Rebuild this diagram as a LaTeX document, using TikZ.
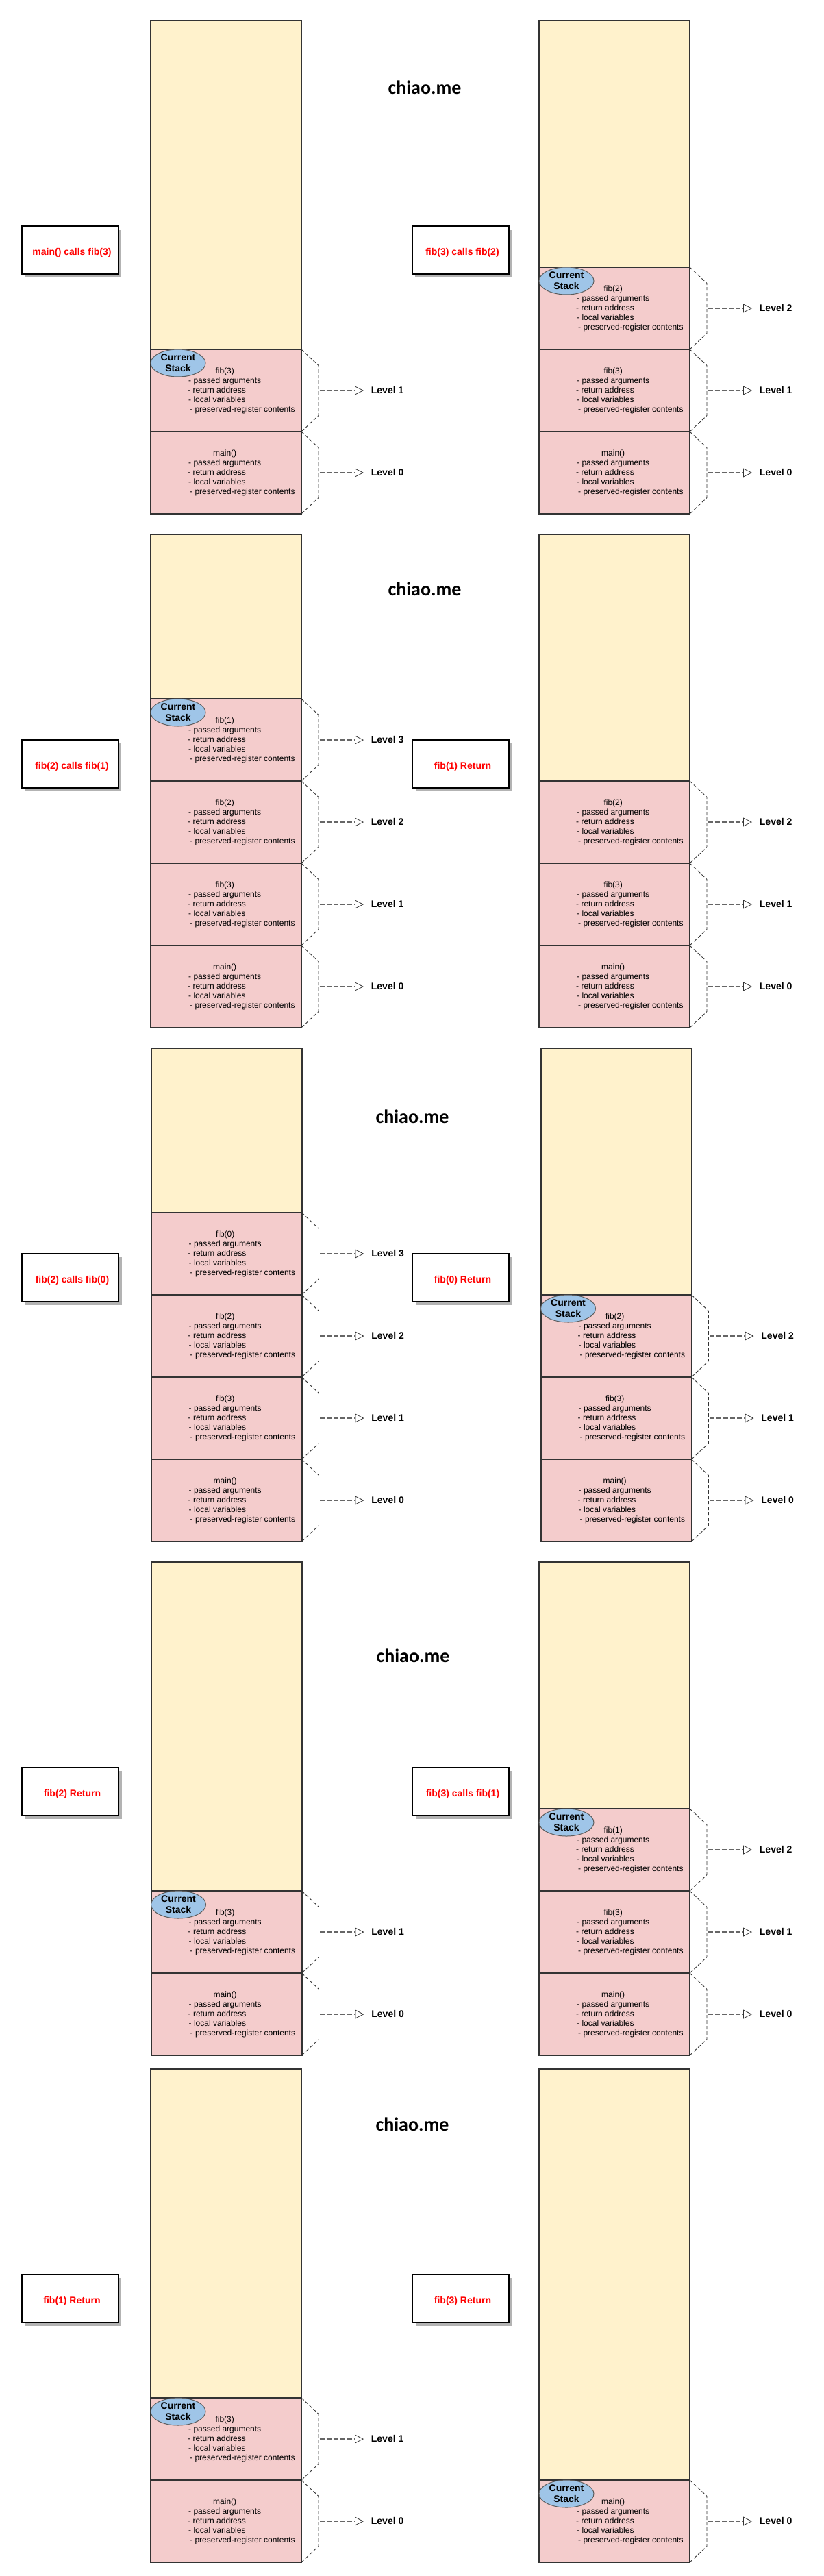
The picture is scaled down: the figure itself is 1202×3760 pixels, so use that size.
\documentclass[tikz,border=0pt]{standalone}
\usepackage{fontspec}
\setmainfont{Liberation Sans}
\newfontfamily\chiaofont{Carlito}
\usetikzlibrary{calc,arrows.meta,shapes.geometric,shadows}
\definecolor{freecol}{HTML}{FFF2CC}
\definecolor{framecol}{HTML}{F4CCCC}
\definecolor{ovalcol}{HTML}{9FC5E8}
\definecolor{edgecol}{HTML}{333333}
\definecolor{shadecol}{HTML}{B3B3B3}
\tikzset{
  x=1pt,y=-1pt,
  cellbase/.style={rectangle,draw=edgecol,line width=2pt,minimum width=220pt,inner sep=0pt,outer sep=0pt,anchor=north west},
  freecell/.style={cellbase,fill=freecol},
  stackcell/.style={cellbase,fill=framecol,minimum height=120pt},
  celltext/.style={anchor=west,inner sep=0pt,align=left,font=\fontsize{12}{14}\selectfont},
  bracket/.style={draw=edgecol,line width=0.9pt,dash pattern=on 5pt off 3pt},
  levelarrow/.style={draw=black!60,line width=1.3pt,dash pattern=on 7pt off 3pt,-{Triangle[open,length=13pt,width=13pt,line width=0.8pt,color=edgecol]}},
  levellabel/.style={anchor=west,inner sep=0pt,font=\bfseries\fontsize{14}{16}\selectfont},
  captionbox/.style={rectangle,draw=black,fill=white,line width=2pt,minimum width=141pt,minimum height=70pt,inner sep=0pt,outer sep=0pt,anchor=north west,text=red,font=\bfseries\fontsize{14}{16}\selectfont,general shadow={fill=shadecol,shadow xshift=4.5pt,shadow yshift=-4.5pt}},
  oval/.style={ellipse,draw=edgecol!80,fill=ovalcol,line width=1pt,minimum width=80pt,minimum height=40pt,inner sep=0pt,align=center,font=\bfseries\fontsize{14}{16}\selectfont},
  brand/.style={inner sep=0pt,font=\chiaofont\bfseries\fontsize{28}{32}\selectfont},
}
% name, left x, top y, title, level
\newcommand\callframe[5]{%
  \node[stackcell] (#1) at (#2,#3) {};
  \node[celltext] (#1txt) at ($(#1.west)+(54pt,0pt)$) {\makebox[108pt][c]{#4}\\\hspace*{1pt}- passed arguments\\- return address\\\hspace*{1pt}- local variables\\\hspace*{3pt}- preserved-register contents};
  \coordinate (#1a) at ($(#1.east)+(25pt,0pt)$);
  \coordinate (#1b) at ($(#1.north east)+(25pt,-23.5pt)$);
  \coordinate (#1c) at ($(#1.south east)+(25pt,23.5pt)$);
  \draw[bracket] (#1.north east) -- (#1b) -- (#1c) -- (#1.south east);
  \coordinate (#1t) at ($(#1.east)+(91pt,0pt)$);
  \draw[levelarrow] ($(#1a)+(1.5pt,0pt)$) -- (#1t);
  \node[levellabel] (#1l) at ($(#1.east)+(101.7pt,0.5pt)$) {Level #5};
}
\newcommand\oneoval[2]{\node[oval] (#1) at ($(#2.north west)+(40pt,-20pt)$) {Current\hspace{8pt}\\Stack};}
\newcommand\onecaption[4]{\node[captionbox] (#1) at (#2,#3) {\hspace*{6pt}\raisebox{-7pt}[0pt][0pt]{#4}};}
\newcommand\freecell[4]{\node[freecell,minimum height=#4pt] (#1) at (#2,#3) {};}
\begin{document}
\begin{tikzpicture}
\useasboundingbox (0,0) rectangle (1202,3760);
\fill[white] (0,0) rectangle (1202,3760);
% Row 1
\freecell{aa}{220}{30}{480}
\callframe{ab}{220}{510}{fib(3)}{1}
\callframe{ac}{220}{630}{main()}{0}
\oneoval{ao}{ab}
\onecaption{ak}{31.5}{330}{main() calls fib(3)}
\node[brand] (am) at (620,128) {chiao.me};
\freecell{ba}{787}{30}{360}
\callframe{bb}{787}{390}{fib(2)}{2}
\callframe{bc}{787}{510}{fib(3)}{1}
\callframe{bd}{787}{630}{main()}{0}
\oneoval{bo}{bb}
\onecaption{bk}{601.5}{330}{fib(3) calls fib(2)}
% Row 2
\freecell{ca}{220}{780}{240}
\callframe{cb}{220}{1020}{fib(1)}{3}
\callframe{cc}{220}{1140}{fib(2)}{2}
\callframe{cd}{220}{1260}{fib(3)}{1}
\callframe{ce}{220}{1380}{main()}{0}
\oneoval{co}{cb}
\onecaption{ck}{31.5}{1080}{fib(2) calls fib(1)}
\node[brand] (cm) at (620,860) {chiao.me};
\freecell{da}{787}{780}{360}
\callframe{db}{787}{1140}{fib(2)}{2}
\callframe{dc}{787}{1260}{fib(3)}{1}
\callframe{dd}{787}{1380}{main()}{0}
\onecaption{dk}{602}{1080}{fib(1) Return}
% Row 3
\freecell{ea}{220.5}{1530}{240}
\callframe{eb}{220.5}{1770}{fib(0)}{3}
\callframe{ec}{220.5}{1890}{fib(2)}{2}
\callframe{ed}{220.5}{2010}{fib(3)}{1}
\callframe{ee}{220.5}{2130}{main()}{0}
\onecaption{ek}{32}{1830}{fib(2) calls fib(0)}
\node[brand] (em) at (602,1630) {chiao.me};
\freecell{fa}{789.5}{1530}{360}
\callframe{fb}{789.5}{1890}{fib(2)}{2}
\callframe{fc}{789.5}{2010}{fib(3)}{1}
\callframe{fd}{789.5}{2130}{main()}{0}
\oneoval{fo}{fb}
\onecaption{fk}{602}{1830}{fib(0) Return}
% Row 4
\freecell{ga}{220.5}{2280}{480}
\callframe{gb}{220.5}{2760}{fib(3)}{1}
\callframe{gc}{220.5}{2880}{main()}{0}
\oneoval{go}{gb}
\onecaption{gk}{32}{2580}{fib(2) Return}
\node[brand] (gm) at (603,2417) {chiao.me};
\freecell{ha}{787}{2280}{360}
\callframe{hb}{787}{2640}{fib(1)}{2}
\callframe{hc}{787}{2760}{fib(3)}{1}
\callframe{hd}{787}{2880}{main()}{0}
\oneoval{ho}{hb}
\onecaption{hk}{602}{2580}{fib(3) calls fib(1)}
% Row 5
\freecell{ia}{220}{3020}{480}
\callframe{ib}{220}{3500}{fib(3)}{1}
\callframe{ic}{220}{3620}{main()}{0}
\oneoval{io}{ib}
\onecaption{ik}{31.5}{3320}{fib(1) Return}
\node[brand] (im) at (602,3101) {chiao.me};
\freecell{ja}{787}{3020}{600}
\callframe{jb}{787}{3620}{main()}{0}
\oneoval{jo}{jb}
\onecaption{jk}{602}{3320}{fib(3) Return}
\end{tikzpicture}
\end{document}
